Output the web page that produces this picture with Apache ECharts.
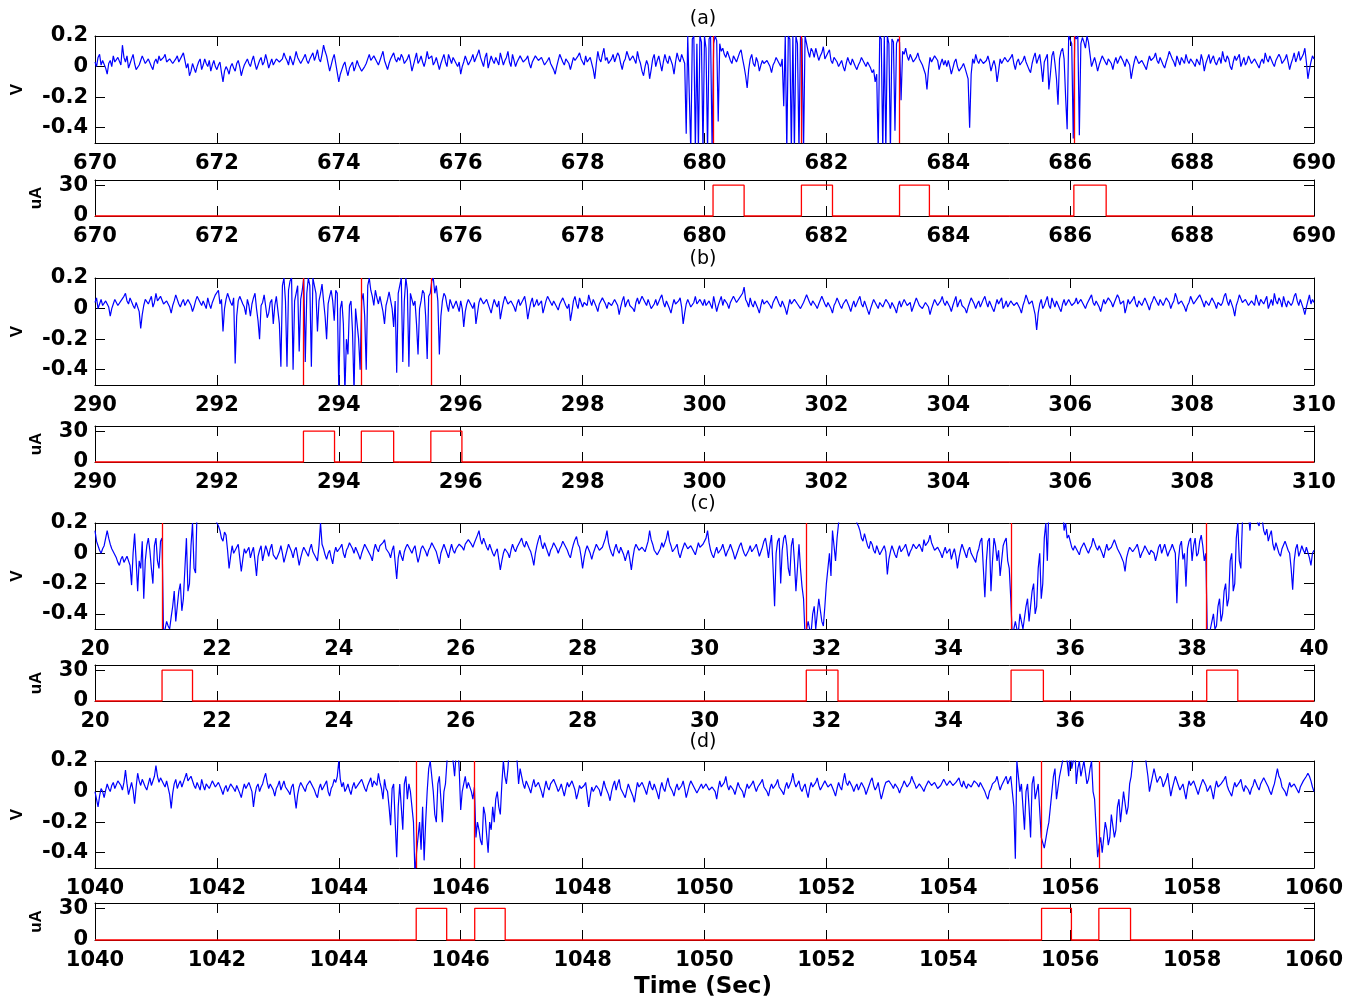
<!DOCTYPE html>
<html><head><meta charset="utf-8">
<script src="https://cdn.jsdelivr.net/npm/echarts@6/dist/echarts.min.js"></script>
<style>html,body{margin:0;padding:0;background:#fff}#c{width:1362px;height:1003px}</style>
</head><body><div id="c"></div>
<script>
// ---------------- data ----------------
const sampleDt = 0.025;           // seconds between samples
const timeStartA = 670, timeStartB = 290, timeStartC = 20, timeStartD = 1040;
const timeSpan = 20;

const voltsA = [
.03,.0,.06,.08,.01,.04,.05,-.01,-.05,.02,.04,.0,.07,.03,.02,.06,.05,.01,.14,.06,.03,.07,-.01,.02,.05,.08,.02,-.02,-.03,.01,.04,.07,.06,.02,.01,.05,.04,.0,-.02,.03,
.05,.02,.07,.04,.03,.06,.08,.03,.02,.05,.06,.02,.01,.05,.07,.03,.04,.07,.09,.04,-.01,.02,-.06,-.03,.02,-.01,-.04,.0,.03,.05,-.02,.01,.05,.02,.0,.04,-.03,.01,.04,.0,
-.02,.01,.03,-.04,-.1,-.03,.0,-.02,-.05,.0,.02,-.01,-.03,.02,.04,.0,-.06,-.02,.01,.03,.05,.02,.0,.04,.07,.02,-.02,.01,.04,.06,.01,.03,.08,.04,-.01,.02,.05,.01,.02,.05,
.06,.03,.02,.05,.09,.06,.04,.01,.07,.04,.01,.05,.1,.06,.05,.02,.03,.06,.08,.04,.02,.05,.06,.09,.04,.07,.11,.05,.03,.08,.14,.1,.07,.02,-.03,.01,.05,.08,.02,-.04,
-.1,-.05,-.02,.01,.03,-.02,-.06,-.01,.01,.03,-.03,.0,.04,.01,.0,-.03,-.04,.0,.02,.05,.08,.04,.03,.07,.06,.03,.01,.04,.07,.1,.04,.01,-.02,.02,.05,.07,.09,.05,.03,.06,
.04,.08,.06,.02,.01,.05,.08,.03,-.03,.01,.05,.09,.02,.04,.07,.03,.0,.04,.1,.05,.04,.07,.01,.03,.06,.02,-.02,.02,.05,.08,.03,.0,.08,.05,.02,.06,.05,.02,.0,.03,
-.05,.0,.03,.07,.06,.01,.02,.05,.08,.03,.04,.08,.11,.06,.03,.0,.06,.09,-.01,.03,.07,.04,.02,.06,.05,.01,.09,.05,.01,.04,.06,.1,.03,.0,.08,.04,.0,.03,.04,.07,
.06,.03,.02,.05,.07,.02,-.01,.03,.04,.07,.08,.04,.03,.06,.05,.01,.0,.04,.06,.02,.02,-.02,-.05,.0,.04,.08,.07,.03,.01,.05,.05,.02,-.02,.02,.06,.04,.03,.07,.09,.05,
.04,.01,.07,.03,.02,.06,.05,-.02,-.08,.02,.1,.05,.03,.08,.12,.04,.06,.02,.01,.05,.08,.03,.04,.09,.07,.02,-.02,.03,.05,.1,.09,.04,.03,.07,.06,.02,.1,.05,.02,-.03,
-.06,.0,.04,.01,-.08,-.02,.05,.08,.0,.04,.07,.02,-.03,.03,.08,.04,.02,.07,.06,.01,-.05,.03,.09,.05,.03,.08,.07,.02,-.44,.2,.2,-.55,.18,.2,-.55,.15,-.55,.2,.16,-.55,
.2,.12,-.55,.18,.2,-.55,.15,.2,.17,-.36,.15,.1,.12,.08,.06,.1,.1,.04,.02,.07,.08,.03,.04,.09,.11,.05,.0,-.06,-.14,-.02,.05,.08,.02,.0,.06,.03,-.03,.01,.04,.02,
.01,.04,.05,.0,-.04,.01,.03,.06,.07,.02,.0,.05,-.26,.2,-.55,.2,.18,-.55,.2,-.55,.2,.15,-.55,.2,.18,-.55,.2,.15,.1,.06,.12,.1,.06,.12,.08,.04,.07,.09,.13,.05,
.05,.09,.11,.04,.02,.06,.07,.03,.0,.02,.04,.0,-.03,.02,.06,.03,.01,.05,.05,.0,-.02,.01,.03,.06,.07,.02,.0,.03,.04,-.01,-.04,-.02,-.1,-.05,-.55,.2,.18,-.55,.2,-.55,
.2,.15,-.55,.18,.16,-.42,.15,.18,.16,-.22,.1,.08,.12,.07,.04,.08,.07,.03,.02,.06,.09,.05,.05,.01,.01,-.05,-.15,-.02,.06,.03,.03,.07,.08,.04,-.02,.02,.05,.01,.04,.0,
.04,.0,-.05,-.01,.03,.05,.0,-.03,-.04,.0,.02,-.01,-.02,-.08,-.4,-.05,.05,.02,.08,.04,.02,.05,.06,.02,.01,.04,.07,.03,-.03,.01,.04,.0,-.1,-.03,.05,.02,.02,.06,.06,.03,
.03,.06,.08,.02,-.02,.03,.05,.01,.01,.04,.07,.03,.03,-.02,-.04,.02,.06,.09,.02,.05,.08,.0,-.1,.03,.04,.08,-.15,-.05,.07,.1,.02,-.08,-.25,.05,.1,.12,.05,-.2,-.41,.2,
.2,.15,-.47,.2,.18,.2,-.45,.15,.19,.16,.12,.2,.16,.08,.0,.03,.06,.02,-.03,.01,.04,.07,.08,.03,.01,.05,.05,.02,-.02,.03,.06,.02,.03,.07,.07,.03,.0,.05,.04,.01,
-.08,-.02,.03,.07,.06,.02,.01,.04,.05,.0,-.02,.03,.07,.04,.03,.06,.09,.04,.02,.06,.05,.01,-.01,.03,.06,.1,.11,.05,.03,.0,.07,.04,.01,.06,.05,.02,.08,.04,.02,.05,
.06,.02,.0,.05,.04,.01,.08,.04,-.03,.02,.05,.08,.02,.05,.07,.03,.01,.04,.06,.02,.1,.05,.03,.07,.05,.0,-.02,.03,.07,.04,.04,.08,.0,.03,.06,.01,.03,.07,.08,.02,
.02,.05,.06,.01,-.01,.03,.05,.02,.09,.05,.03,.07,.07,.02,.0,.04,.04,.08,.06,.02,.01,.05,.08,.03,-.02,.02,.05,.09,.03,.06,.1,.04,.04,.08,.12,.03,-.08,-.02,.03,.07,
.05];

const voltsB = [
.04,.07,.0,.03,.06,.02,.02,.05,.05,.01,-.05,.0,.03,.06,.07,.02,.01,.05,.04,.08,.1,.05,.03,.07,.06,.02,.0,.04,.05,-.02,-.13,-.04,.02,.06,.07,.03,.04,.08,.01,.04,
.1,.05,.04,.08,.07,.03,.02,.05,.06,.01,-.03,.02,.05,.09,.08,.03,.01,.04,.06,.02,.03,.06,.07,.02,-.02,.01,.05,.08,.09,.04,.02,.05,.04,.0,.07,.03,.0,.04,.05,.09,
.08,.12,.03,.06,-.15,.0,.06,.1,.1,.04,.02,.07,-.36,-.05,.05,.08,.09,.03,.01,-.04,.06,.02,-.05,.03,.07,.1,.0,-.08,-.2,.02,.04,.09,.08,-.06,-.03,.04,.06,-.1,.02,.08,
.07,-.1,-.38,.15,.2,.05,-.38,.12,.18,.2,-.4,.05,.1,.15,-.28,.06,.12,.2,-.35,.1,.2,.15,-.38,.2,.2,.1,-.15,.05,.1,.16,.05,-.05,-.2,.03,.08,.12,.05,-.08,.12,.1,
-.55,.0,.05,-.1,-.55,-.2,-.3,.02,.05,-.15,-.55,.0,.0,-.2,-.4,.05,.1,-.05,-.4,.15,.2,.12,.08,.02,.12,.07,.03,.08,.09,-.02,-.1,.02,.06,.11,.1,.0,-.12,.05,-.42,.1,
.15,.2,-.35,.05,.2,.12,-.38,.1,.1,.02,.05,-.1,-.3,.0,.05,.12,.1,-.05,-.33,.08,.1,.18,.2,.1,.15,.05,-.3,-.05,.05,.1,.08,.02,-.02,.06,.06,.0,.0,.05,.04,-.02,
.05,.0,-.12,-.02,.03,.06,.07,.02,.0,.04,-.1,-.03,.04,.07,.08,.03,.02,.06,.05,.0,-.03,.02,.06,.03,.01,.05,-.07,-.01,.04,.08,.07,.03,.02,.05,.05,.01,-.02,.03,.06,.02,
.03,.06,.08,.02,-.07,-.01,.04,.07,.01,.03,.06,.02,.02,.05,-.03,.01,.05,.08,.09,.04,.02,.05,.06,.01,-.01,.03,.04,.07,.07,.02,.0,.03,-.08,-.02,.05,.08,.03,.0,.07,.04,
.01,.04,.05,.02,.09,.05,.02,.06,.06,.01,-.02,.03,.04,.07,.08,.03,.0,.04,.05,.02,.03,.06,.07,.02,-.04,.01,.05,.08,.01,.04,.06,.02,.03,.0,-.02,.04,.07,.03,.04,.08,
.08,.04,.02,.06,.05,.0,-.01,.03,.06,.02,.03,.07,.09,.04,.01,.05,.04,.0,-.03,.02,.06,.03,.02,.05,.07,.01,-.1,-.03,.03,.06,.05,.01,.0,.04,.08,.03,.02,.06,.05,.02,
.06,.02,.01,.05,.04,.0,.08,.03,-.02,.02,.05,.08,.02,.06,.07,.03,.0,.04,.04,.08,.09,.04,.03,.07,.06,.1,.14,.06,.04,.01,.07,.03,.01,.05,.05,.0,-.03,.02,.06,.03,
.02,.05,.06,.02,.0,.04,.05,.08,.08,.03,.01,.05,.04,.0,-.04,.01,.06,.03,.02,.06,.07,.03,.03,.0,-.01,.04,.05,.09,.08,.04,.02,.05,.06,.02,.0,.03,.04,.08,.07,.03,
.01,.04,.05,.0,-.03,.02,.04,.07,.07,.02,.0,.03,.03,.06,.06,.01,-.02,.02,.05,.01,.02,.06,.08,.03,.01,.05,.04,-.01,-.04,.0,.03,.06,.06,.02,.0,.04,.05,.01,.02,.06,
.07,.03,.0,.04,.04,.0,-.03,.02,.05,.01,.02,.06,.06,.02,.01,.04,-.02,.01,.04,.07,.07,.02,.03,.0,.0,.04,.05,.01,-.04,.0,.03,.06,.06,.02,.01,.05,.08,.04,.02,.05,
.04,.01,-.02,.02,.05,.08,.01,.04,.06,.02,.03,.0,-.03,.01,.04,.07,.07,.03,.0,.03,.05,.01,.02,.06,.08,.04,.01,.05,.04,.0,-.02,.02,.06,.03,.03,.07,.0,.02,.05,.01,
.02,.05,.06,.02,.01,.04,.04,.0,-.03,.02,.05,.09,.08,.03,.02,.05,.06,-.04,-.14,-.03,.03,.06,.0,.02,.05,.08,.02,.0,.07,.04,.01,.05,.04,.0,-.02,.03,.06,.02,.03,.06,
.05,.02,.01,.04,.07,.03,.03,.06,.06,.02,.0,.03,.04,.07,.09,.04,.02,.05,.05,.01,-.02,.02,.06,.03,.03,.07,.08,.04,.01,.04,.05,.09,.07,.03,.02,.05,-.03,.01,.06,.03,
.04,.06,.08,.03,.01,.05,.06,.02,.03,.07,.07,.02,-.01,.03,.05,.08,.09,.04,.02,.06,.06,.02,.03,.07,.08,.04,.0,.03,.05,.1,.07,.03,.02,.05,.06,.01,-.02,.02,.04,.08,
.07,.03,.02,.06,.05,.09,.09,.04,.01,.05,.06,.02,.03,.07,.08,.03,.0,.04,.05,.02,.04,.08,.1,.05,.02,.06,.06,.0,-.05,.02,.05,.09,.08,.04,.03,.06,.06,.02,.01,.05,
.05,.02,.09,.05,.02,.06,.07,.03,.04,.08,.0,.03,.06,.02,.1,.05,.03,.07,.05,.01,.08,.04,.01,.05,.06,.02,.04,.08,.1,.05,.02,.06,.07,.0,-.04,.01,.05,.09,.03,.06,
.04];

const voltsC = [
.15,.08,.05,.02,.0,.03,.05,.1,.15,.1,.06,.03,.02,-.01,-.03,-.06,-.08,-.04,-.02,-.06,-.05,-.02,-.03,-.08,-.21,.0,.13,-.05,-.25,-.05,-.1,.08,-.3,-.05,.05,.1,.02,-.1,-.2,.05,
.1,-.05,-.1,.08,.1,-.55,-.55,-.45,-.48,-.5,-.42,-.35,-.25,-.45,-.35,-.25,-.2,-.38,-.3,-.1,.1,-.25,-.2,.05,.2,-.1,-.13,.3,.3,.3,.3,.3,.28,.3,.3,.3,.3,.3,.25,.22,
.2,.18,.15,.1,.08,.14,.12,.02,-.1,-.02,.05,.0,.01,.04,.06,-.03,-.12,-.04,.03,.0,.0,.04,-.03,.01,.04,-.05,-.15,-.02,.02,.05,-.05,.0,.05,.02,-.02,.03,.06,-.01,.0,-.04,
-.04,.01,.05,.0,-.06,-.02,.02,.06,.07,.01,-.03,.02,.04,-.02,-.08,-.03,.01,.04,.05,.0,-.02,.03,.06,.01,.0,-.03,-.05,.05,.2,.06,.03,-.01,-.04,.0,.02,-.03,-.07,.0,.04,.01,
.01,.04,.06,.0,-.03,.02,.04,.07,.08,.03,.0,.04,.05,-.01,-.04,.0,.03,.06,.07,.02,.02,-.02,-.05,.02,.06,.03,.01,.05,.04,.07,.09,.03,.02,.0,-.03,.02,.05,-.06,-.17,-.03,
.02,-.02,-.05,.01,.04,.06,.07,.02,.0,.03,.05,-.01,-.06,-.02,.03,.05,.06,.01,-.02,.02,.04,.07,.08,.03,.01,-.03,-.07,.0,.03,.06,.05,.0,-.03,.02,.06,.02,.0,.03,.04,.06,
.07,.04,.02,.06,.05,.09,.1,.06,.04,.07,.08,.12,.15,.09,.06,.1,.09,.04,.02,.06,.05,.0,-.02,.01,.03,-.04,-.11,-.05,.0,.03,.04,.0,-.03,.02,.06,.03,.01,.04,.05,.08,
.1,.06,.04,.08,.07,.03,.01,-.03,-.08,.0,.05,.09,.12,.06,.03,.07,.06,.01,-.02,.02,.04,.07,.08,.03,.0,.03,.05,.08,.09,.04,.02,-.01,-.03,.02,.06,.09,.11,.06,.04,-.02,
-.1,-.03,.02,.05,.06,.0,-.04,.0,.03,.06,.07,.02,.01,.04,.05,.1,.15,.07,.03,.0,-.02,.03,.06,.02,.0,.04,.04,-.01,-.05,-.01,.02,-.04,-.11,-.03,.03,.06,.07,.02,.01,.04,
.05,.01,.02,.08,.15,.09,.06,.02,.03,-.01,-.02,.03,.07,.04,.04,.1,.15,.08,.05,.01,.01,.04,.06,.0,-.03,.01,.04,.07,.08,.03,.02,.05,.05,.01,-.01,.03,.07,.04,.03,.06,
.06,.1,.15,.07,.02,-.01,-.03,.01,.04,.0,.0,.03,.06,.02,-.02,.01,.03,.06,.05,.0,-.04,-.01,.02,.05,.07,.03,.0,-.02,-.03,.02,.05,.01,.01,.04,.06,.02,-.02,.01,.04,.08,
.1,.04,-.03,.06,.12,-.1,-.35,.0,.08,.1,-.2,.02,.1,.12,.05,-.1,-.15,.05,.1,-.05,-.25,-.1,.06,-.1,-.22,-.3,-.55,-.55,-.45,-.5,-.52,-.4,-.35,-.5,-.5,-.3,-.3,-.45,-.48,-.35,
-.2,-.1,.0,-.15,.15,.05,-.05,.1,.2,.3,.3,.3,.3,.3,.3,.3,.28,.3,.3,.25,.2,.18,.15,.1,.08,.13,.12,.05,.03,.08,.06,.02,.0,.05,.04,-.01,-.02,.03,.05,.01,
-.14,-.04,.01,.05,.04,-.01,-.03,.02,.05,.01,.0,.04,.06,.02,-.02,.01,.03,.06,.07,.03,.02,.06,.05,.01,.09,.05,.04,.08,.12,.07,.06,.02,.01,.04,.05,.0,-.03,.01,.04,.0,
.0,.03,-.04,.0,.03,-.02,-.1,-.03,.02,.06,.05,.0,-.03,.02,.04,.0,.0,-.04,-.06,.0,.03,.08,.1,-.1,-.29,-.05,.08,.1,-.25,-.05,.1,.05,-.05,.02,-.15,-.05,.05,.08,.1,-.05,
-.1,-.3,-.55,-.55,-.45,-.5,-.52,-.4,-.4,-.5,-.5,-.35,-.3,-.45,-.45,-.25,-.2,-.4,-.35,-.1,.0,-.3,-.2,.1,.2,-.05,.3,.3,.3,.3,.3,.3,.3,.3,.28,.3,.15,.2,.1,.12,
.08,.04,.02,.05,.06,.01,-.01,.03,.04,.07,.07,.02,.0,.03,.05,.1,.09,.04,.02,.05,.04,.0,-.03,.02,.06,.02,.01,.04,.05,.09,.08,.03,.03,-.01,-.02,-.06,-.12,-.03,.01,.04,
.04,.01,.0,.04,.06,.02,-.03,.0,.02,.05,.05,.01,-.01,.02,.03,.0,-.05,-.01,.04,.06,.0,.03,.06,.02,-.02,.01,.03,.06,.07,.0,-.33,-.05,.05,.08,-.04,.0,-.22,.03,.08,.1,
-.05,.05,.1,-.02,.0,.08,.12,.05,-.05,.0,-.55,-.52,-.5,-.45,-.4,-.5,-.48,-.35,-.3,-.45,-.4,-.25,-.2,-.35,-.3,-.05,.0,-.25,-.2,.1,.2,-.05,-.1,.2,.3,.3,.3,.25,.15,.3,
.3,.3,.3,.2,.18,.3,.3,.15,.12,.16,.08,.12,.15,.06,.02,.07,.06,.0,-.02,.03,.04,.08,.07,.02,.0,-.1,-.24,-.05,.03,.06,-.02,.01,.05,.02,.0,.04,.04,-.03,-.08,.0,
.02];

const voltsD = [
.0,-.05,-.1,-.03,.02,.0,-.04,.01,.05,.02,.0,.04,.06,.02,.03,.07,.08,.04,.01,.06,.14,.05,-.02,.02,.06,.01,-.08,.03,.12,.07,.04,.08,.07,.03,.01,.05,.09,.04,.05,.1,
.17,.1,.06,.09,.1,.05,.03,.07,.08,-.02,-.11,-.01,.05,.08,.02,.05,.07,.03,.04,.09,.12,.07,.06,.1,.09,.04,.02,.06,.05,.01,.08,.04,.01,.05,.06,.02,.03,.07,.07,.03,
.02,.06,.05,.01,-.02,.02,.04,.0,.01,.05,.06,.02,.0,.04,.03,-.01,-.04,.01,.05,.02,.02,.06,.07,.0,-.1,-.02,.03,.05,.0,.03,.05,.09,.12,.06,.02,.05,.06,.01,-.03,.02,
.04,.07,.01,.04,.07,.03,.02,.0,-.02,.03,.05,-.03,-.11,-.02,.03,.06,.06,.02,.0,.04,.04,.07,.08,.03,.01,-.02,-.04,.02,.05,.01,.02,.05,.07,.0,-.03,.02,.04,.08,.06,.1,
.2,.08,.03,.06,.0,.02,.05,.01,-.02,.03,.06,.02,.01,.05,.04,.08,.07,.02,.0,.04,.05,.09,.03,.07,.08,.04,.12,.06,.02,-.05,.08,.02,.0,-.1,-.22,.02,.05,-.2,-.43,-.1,
.05,-.1,-.25,.05,.1,-.05,.05,.0,-.1,-.2,-.55,-.4,-.3,-.2,-.38,-.1,-.45,-.2,.0,.15,.2,.1,.0,-.15,-.2,.05,.1,-.05,-.2,.0,.05,.2,.3,.3,.3,.2,.1,.25,.3,.15,
-.12,.0,.05,.1,.02,.06,.05,.0,-.05,.03,-.3,-.2,-.25,-.32,-.35,-.1,-.15,-.28,-.4,-.2,-.25,-.1,-.2,-.05,.0,-.1,-.15,.05,.2,.1,.05,.15,.3,.3,.3,.3,.3,.2,.05,.15,
.1,.05,.02,.07,.06,.02,-.01,.04,.08,.03,.03,.06,.05,.0,-.04,.02,.07,.03,.01,.05,.04,.08,.09,.03,.0,.02,.05,.01,-.03,.02,.06,.03,.02,.07,.08,.01,-.05,-.01,.04,.02,
.01,.04,.06,-.02,-.1,-.03,.03,.0,.0,.04,.05,.01,-.03,.02,.07,.03,.02,-.02,-.06,.0,.04,.07,.01,.05,.08,.02,.0,-.01,-.04,.01,.05,.02,.02,-.03,-.07,.0,.06,.03,.03,.06,
.05,.01,-.02,.03,.07,.03,.01,.05,.04,-.01,-.05,.02,.06,.02,.0,.05,.09,.04,.03,.0,-.03,.02,.05,.01,.01,.04,.07,.02,-.04,.0,.04,.07,.08,.03,.02,-.01,-.02,.03,.05,.02,
.02,.05,.06,.01,.0,.03,.04,.0,-.05,.02,.07,.03,.03,.06,.1,.04,.01,.04,.05,.01,-.02,.02,.06,.03,.03,.0,-.04,.01,.05,.02,.01,.05,.07,.03,.0,.03,.04,.06,.08,.03,
.03,.0,-.03,.02,.05,.02,.01,.05,.08,.03,.04,.0,-.02,.03,.06,.02,.02,.07,.12,.06,.03,.05,.07,.02,.0,.03,.05,.0,-.04,.02,.06,.03,.02,.06,.09,.04,.01,.03,.04,.07,
.07,.03,.02,.05,.05,.0,-.03,.02,.06,.03,.01,.07,.12,.06,.04,.07,.08,.03,.0,.03,.05,.01,.02,.06,.07,.02,-.02,.01,.04,.07,.09,.04,.01,.03,.06,.0,-.05,-.01,.03,.06,
.05,.07,.08,.04,.02,.05,.06,.02,-.01,.02,.04,.07,.07,.03,.03,.06,.1,.07,.05,.02,.02,.05,.06,.02,.0,.03,.04,.07,.08,.04,.03,.06,.06,.02,.01,.04,.05,.08,.07,.04,
.04,.07,.08,.04,.03,.06,.06,.09,.05,.03,.07,.04,.02,.05,.06,.03,.04,.07,.08,.05,.03,.06,.05,.02,.0,-.03,-.05,.0,.02,.05,.04,.07,.1,.05,.01,.04,.03,.08,.1,.05,
.06,.1,.1,-.1,-.44,.2,.2,.0,.05,-.1,-.25,.0,.05,-.1,-.3,.05,.1,-.05,.0,.05,.05,-.3,-.3,-.37,-.37,-.25,-.2,-.1,.0,.1,.15,-.05,-.05,.1,.1,.2,.2,.3,.3,.1,
.3,.15,.2,.3,.05,.15,.2,.1,.1,.2,.2,.05,.08,.15,.2,.0,-.05,-.05,-.43,-.35,-.3,-.4,-.4,-.2,-.25,-.35,-.3,-.15,-.15,-.3,-.25,-.1,-.05,-.2,-.2,.0,.0,-.15,-.1,.05,
.1,.2,.3,.3,.3,.3,.3,.3,.3,.25,.25,.1,.0,.05,.1,.15,.15,.06,.05,.1,.08,.03,.02,.08,.12,.04,-.03,.02,.06,.1,.1,.04,.01,.03,.05,.0,-.05,.02,.07,.04,
.03,.07,.06,.01,-.02,.02,.05,.08,.09,.04,.0,.02,.04,.0,-.05,.02,.07,.03,.02,.05,.05,.08,.1,.04,.01,-.01,-.03,.02,.06,.03,.03,.06,.08,.03,.0,.04,.05,.01,-.02,.02,
.04,.08,.07,.03,.01,.05,.06,.09,.1,.05,.03,.0,-.02,.02,.05,.1,.15,.1,.08,.03,.04,.0,-.03,.02,.06,.03,.02,.05,.05,.01,-.01,.03,.04,.07,.08,.1,.12,.1,.07,.03,
.0];

// stimulation pulses (uA): onset / offset times
const pulseStartA = [680.14, 681.59, 683.2, 686.06];
const pulseEndA   = [680.65, 682.1, 683.69, 686.59];
const pulseStartB = [293.42, 294.37, 295.51];
const pulseEndB   = [293.93, 294.9, 296.02];
const pulseStartC = [21.1, 31.67, 35.03, 38.24];
const pulseEndC   = [21.6, 32.19, 35.56, 38.75];
const pulseStartD = [1045.27, 1046.23, 1055.53, 1056.47];
const pulseEndD   = [1045.77, 1046.73, 1056.02, 1056.99];
const pulseAmp = 30;

const panelTitles = ['(a)', '(b)', '(c)', '(d)'];
const voltTicks = [-0.4, -0.2, 0, 0.2];
const currentTicks = [0, 30];
const voltRange = [-0.5, 0.2];
const currentRange = [0, 35];
const xTickStep = 2;

// ---------------- layout ----------------
const layout = [
  {vTop: 36,  vH: 107, iTop: 180, iH: 36, titleY: 19},
  {vTop: 278, vH: 107, iTop: 426, iH: 36, titleY: 259},
  {vTop: 523, vH: 106, iTop: 665, iH: 36, titleY: 504},
  {vTop: 761, vH: 107, iTop: 903, iH: 37, titleY: 742}
];
const panels = [
  {t0: timeStartA, volts: voltsA, starts: pulseStartA, ends: pulseEndA},
  {t0: timeStartB, volts: voltsB, starts: pulseStartB, ends: pulseEndB},
  {t0: timeStartC, volts: voltsC, starts: pulseStartC, ends: pulseEndC},
  {t0: timeStartD, volts: voltsD, starts: pulseStartD, ends: pulseEndD}
];
const LEFT = 95, RIGHT = 48;
const FONT = 'DejaVu Sans';

const grid = [], xAxis = [], yAxis = [], series = [], graphic = [];

function addGrid(top, h, xmin, yr, ticks) {
  const g = grid.length;
  grid.push({left: LEFT, right: RIGHT, top: top, height: h, show: false});
  const tick = {show: true, inside: true, length: 10, lineStyle: {color: '#000', width: 1}};
  const line = {show: true, onZero: false, lineStyle: {color: '#000', width: 1}};
  const lab = {color: '#000', fontFamily: FONT, fontWeight: 'bold', fontSize: 21};
  xAxis.push({type: 'value', gridIndex: g, position: 'bottom', min: xmin, max: xmin + timeSpan, interval: xTickStep,
    axisLine: line, axisTick: tick, splitLine: {show: false},
    axisLabel: Object.assign({margin: 10, showMinLabel: true, showMaxLabel: true, formatter: v => String(v)}, lab)});
  xAxis.push({type: 'value', gridIndex: g, position: 'top', min: xmin, max: xmin + timeSpan, interval: xTickStep,
    axisLine: line, axisTick: tick, splitLine: {show: false}, axisLabel: {show: false}});
  yAxis.push({type: 'value', gridIndex: g, position: 'left', min: yr[0], max: yr[1],
    axisLine: line, axisTick: Object.assign({customValues: ticks}, tick), splitLine: {show: false},
    axisLabel: Object.assign({customValues: ticks, margin: 7, formatter: v => String(v)}, lab)});
  yAxis.push({type: 'value', gridIndex: g, position: 'right', min: yr[0], max: yr[1],
    axisLine: line, axisTick: Object.assign({customValues: ticks}, tick), splitLine: {show: false},
    axisLabel: {show: false}});
  return g;
}

panels.forEach((p, k) => {
  const L = layout[k];
  // voltage panel
  const gv = addGrid(L.vTop, L.vH, p.t0, voltRange, voltTicks);
  const vData = p.volts.map((v, i) => [p.t0 + i * sampleDt, v]);
  series.push({
    type: 'line', xAxisIndex: 2 * gv, yAxisIndex: 2 * gv, data: vData,
    symbol: 'none', showSymbol: false, animation: false, clip: true, z: 3,
    lineStyle: {color: '#0000ff', width: 1.2}, itemStyle: {color: '#0000ff'},
    markLine: {silent: true, animation: false, symbol: ['none', 'none'], label: {show: false},
      lineStyle: {color: '#ff0000', width: 1.3, type: 'solid'},
      emphasis: {disabled: true},
      data: p.starts.map(s => ({xAxis: s}))}
  });
  // current panel
  const gi = addGrid(L.iTop, L.iH, p.t0, currentRange, currentTicks);
  const iData = [[p.t0, 0]];
  p.starts.forEach((s, j) => {
    const e = p.ends[j];
    iData.push([s, 0], [s, pulseAmp], [e, pulseAmp], [e, 0]);
  });
  iData.push([p.t0 + timeSpan, 0]);
  series.push({
    type: 'line', xAxisIndex: 2 * gi, yAxisIndex: 2 * gi, data: iData,
    symbol: 'none', showSymbol: false, animation: false, clip: false, z: 3,
    lineStyle: {color: '#ff0000', width: 1.3}, itemStyle: {color: '#ff0000'}
  });
  // texts
  graphic.push({type: 'text', x: 703, y: L.titleY, style: {text: panelTitles[k], fill: '#000',
    font: 'normal 19px "DejaVu Sans"', textAlign: 'center', textVerticalAlign: 'middle'}});
  graphic.push({type: 'text', x: 17, y: L.vTop + L.vH / 2, rotation: Math.PI / 2, style: {text: 'V', fill: '#000',
    font: 'bold 17px "Liberation Sans"', textAlign: 'center', textVerticalAlign: 'middle'}});
  graphic.push({type: 'text', x: 36, y: L.iTop + L.iH / 2, rotation: Math.PI / 2, style: {text: 'uA', fill: '#000',
    font: 'bold 17px "Liberation Sans"', textAlign: 'center', textVerticalAlign: 'middle'}});
});
graphic.push({type: 'text', x: 703, y: 987, style: {text: 'Time (Sec)', fill: '#000',
  font: 'bold 23px "DejaVu Sans"', textAlign: 'center', textVerticalAlign: 'middle'}});

const chart = echarts.init(document.getElementById('c'), null, {renderer: 'canvas'});
chart.setOption({animation: false, backgroundColor: '#fff', grid, xAxis, yAxis, series, graphic});
</script></body></html>
